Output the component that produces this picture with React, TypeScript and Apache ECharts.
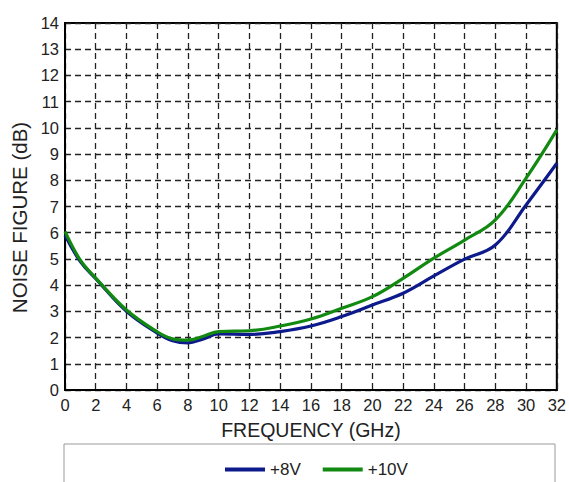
import React, { useEffect, useRef } from "react";
import * as echarts from "echarts";

const freq = [0, 1, 2, 4, 6, 7, 8, 9, 10, 12, 14, 16, 18, 20, 22, 24, 26, 28, 30, 32];
const nf8V = [5.9, 4.9, 4.25, 3.0, 2.17, 1.88, 1.8, 1.95, 2.14, 2.12, 2.23, 2.44, 2.8, 3.24, 3.69, 4.35, 4.99, 5.53, 7.06, 8.65];
const nf10V = [6.05, 4.95, 4.27, 3.05, 2.22, 1.95, 1.9, 2.05, 2.23, 2.26, 2.44, 2.71, 3.12, 3.56, 4.26, 5.03, 5.72, 6.49, 8.08, 9.92];
const seriesNames = ["+8V", "+10V"];
const seriesColors = ["#0d1a8c", "#128a12"];

export default function App() {
  const ref = useRef<HTMLDivElement>(null);
  useEffect(() => {
    document.body.style.margin = "0";
    const chart = echarts.init(ref.current!, null, { renderer: "svg" });
    const font = "'Liberation Sans', Arial, sans-serif";
    const mk = (vals: number[]) => freq.map((f, i) => [f, vals[i]]);
    chart.setOption({
      animation: false,
      backgroundColor: "#fff",
      textStyle: { fontFamily: font },
      grid: {
        left: 65,
        right: 12,
        top: 23,
        bottom: 92,
        show: true,
        borderColor: "#000",
        borderWidth: 2,
      },
      legend: {
        left: 220,
        top: 456,
        itemGap: 22,
        itemWidth: 40,
        itemHeight: 4,
        icon: "rect",
        textStyle: { fontSize: 17, color: "#222", fontFamily: font },
        data: seriesNames,
      },
      graphic: [
        {
          type: "rect",
          shape: { x: 64, y: 444, width: 491, height: 60 },
          style: { fill: "none", stroke: "#999", lineWidth: 1 },
          silent: true,
        },
      ],
      xAxis: {
        type: "value",
        min: 0,
        max: 32,
        interval: 2,
        name: "FREQUENCY (GHz)",
        nameLocation: "middle",
        nameGap: 30,
        nameTextStyle: { fontSize: 19.5, color: "#222", fontFamily: font },
        axisLine: { show: true, lineStyle: { color: "#000", width: 2 } },
        axisTick: { show: false },
        axisLabel: { fontSize: 16.5, color: "#222", margin: 6, fontFamily: font },
        splitLine: { show: true, lineStyle: { color: "#222", type: [6, 4], width: 1.3 } },
      },
      yAxis: {
        type: "value",
        min: 0,
        max: 14,
        interval: 1,
        name: "NOISE FIGURE (dB)",
        nameLocation: "middle",
        nameGap: 33,
        nameTextStyle: { fontSize: 20.5, color: "#222", fontFamily: font, padding: [0, 22, 0, 0] },
        axisLine: { show: true, lineStyle: { color: "#000", width: 2 } },
        axisTick: { show: false },
        axisLabel: { fontSize: 16.5, color: "#222", margin: 6, fontFamily: font },
        splitLine: { show: true, lineStyle: { color: "#222", type: [6, 4], width: 1.3 } },
      },
      series: [
        {
          name: seriesNames[0],
          type: "line",
          data: mk(nf8V),
          smooth: 0.4,
          showSymbol: false,
          lineStyle: { color: seriesColors[0], width: 3.2 },
          itemStyle: { color: seriesColors[0] },
          z: 3,
        },
        {
          name: seriesNames[1],
          type: "line",
          data: mk(nf10V),
          smooth: 0.4,
          showSymbol: false,
          lineStyle: { color: seriesColors[1], width: 3.2 },
          itemStyle: { color: seriesColors[1] },
          z: 4,
        },
      ],
    });
    return () => chart.dispose();
  }, []);
  return <div ref={ref} style={{ width: 569, height: 482 }} />;
}
